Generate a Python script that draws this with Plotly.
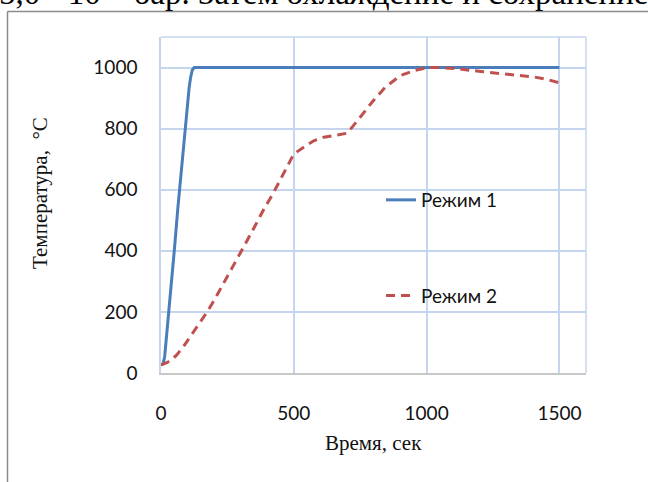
import plotly.graph_objects as go

# Data
t1 = [0, 8, 14, 20, 30, 41, 52, 63, 77, 91, 100, 106, 112, 118, 125, 1500]
T1 = [27, 30, 55, 110, 200, 306, 420, 536, 670, 800, 880, 935, 970, 992, 1000, 1000]

t2 = [0, 20, 41, 60, 85, 110, 129, 150, 173, 200, 230, 260, 300, 350, 387, 424, 456, 500,
      537, 575, 613, 650, 676, 701, 745, 795, 845, 902, 952, 1003, 1053, 1116, 1204, 1342, 1405, 1450, 1503]
T2 = [27, 33, 44, 60, 87, 118, 142, 170, 199, 238, 284, 330, 395, 475, 536, 591, 646, 717,
      739, 760, 772, 778, 783, 785, 832, 887, 936, 974, 990, 1000, 1000, 996, 987, 976, 969, 962, 949]

names = ["Режим 1", "Режим 2"]
x_ticks = [0, 500, 1000, 1500]
y_ticks = [0, 200, 400, 600, 800, 1000]

W, H = 648, 482
L, R, T, B = 161, 586, 37, 373


def px(x):
    return (x - L) / (R - L)


def py(y):
    return (B - y) / (B - T)


fig = go.Figure()
fig.add_trace(go.Scatter(x=t1, y=T1, mode="lines", name=names[0], legendgroup="a",
                         line=dict(color="#4a7ebb", width=3)))
fig.add_trace(go.Scatter(x=t2, y=T2, mode="lines", name=names[1], legendgroup="b",
                         line=dict(color="#c0504d", width=3, dash="9px,6px")))

grid = "#c6d5ee"
fig.update_layout(
    width=W, height=H,
    margin=dict(l=L, r=W - R, t=T, b=H - B),
    paper_bgcolor="white", plot_bgcolor="white",
    showlegend=True,
    legend=dict(x=px(381), y=py(181), xanchor="left", yanchor="top",
                bgcolor="rgba(0,0,0,0)", tracegroupgap=68,
                font=dict(family="Lato", size=19, color="#111")),
    xaxis=dict(range=[0, 1600], tickvals=x_ticks, showgrid=True, gridcolor=grid, gridwidth=1.5,
               zeroline=False, showline=True, linecolor="#c8c8c8", linewidth=1.5,
               mirror=False, ticks="", ticklabelstandoff=22,
               tickfont=dict(family="Lato", size=19, color="#111")),
    yaxis=dict(range=[0, 1100], tickvals=y_ticks, showgrid=True, gridcolor=grid, gridwidth=1.5,
               zeroline=False, showline=True, linecolor=grid, linewidth=1.5,
               ticks="", ticklabelstandoff=18,
               tickfont=dict(family="Lato", size=19, color="#111")),
    shapes=[
        # plot area top and right border
        dict(type="line", xref="paper", yref="paper", x0=0, x1=1, y0=1, y1=1,
             line=dict(color=grid, width=1.5)),
        dict(type="line", xref="paper", yref="paper", x0=1, x1=1, y0=0, y1=1,
             line=dict(color=grid, width=1.5)),
        # outer frame
        dict(type="line", xref="paper", yref="paper", x0=px(7.5), x1=px(700), y0=py(11.5), y1=py(11.5),
             line=dict(color="#8c8c8c", width=1.5)),
        dict(type="line", xref="paper", yref="paper", x0=px(7.5), x1=px(7.5), y0=py(11.5), y1=py(520),
             line=dict(color="#8c8c8c", width=1.5)),
    ],
    annotations=[
        dict(text="Время, сек", xref="paper", yref="paper", x=px(373), y=py(457),
             showarrow=False, font=dict(family="Liberation Serif", size=21, color="#111")),
        dict(text="Температура,  °С", xref="paper", yref="paper", x=px(26), y=py(193),
             textangle=-90, showarrow=False,
             font=dict(family="Liberation Serif", size=21, color="#111")),
        dict(text="5,0 · 10<sup>−4</sup> бар. Затем охлаждение и сохранение",
             xref="paper", yref="paper", x=px(-2), y=py(12), xanchor="left", yanchor="bottom",
             showarrow=False, borderpad=0,
             font=dict(family="Liberation Serif", size=33, color="#000")),
    ],
)

fig.write_html("out.html")
